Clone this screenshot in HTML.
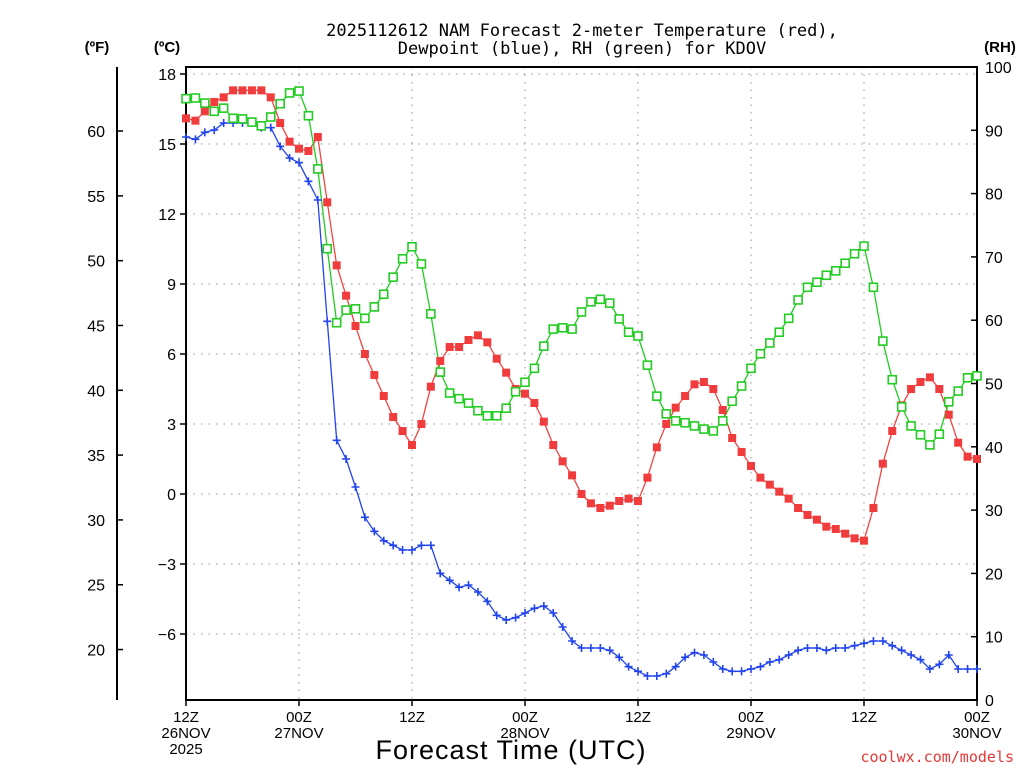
<!DOCTYPE html>
<html><head><meta charset="utf-8"><style>
html,body{margin:0;padding:0;background:#fff;}
svg{display:block;font-family:"DejaVu Sans Mono","Liberation Mono",monospace;}
.tl{font-family:"Liberation Sans",sans-serif;}
</style></head><body>
<svg id="chart" width="1024" height="768" viewBox="0 0 1024 768" xmlns="http://www.w3.org/2000/svg">
<rect x="0" y="0" width="1024" height="768" fill="#fff"/>
<text x="582" y="36" font-size="17" text-anchor="middle">2025112612 NAM Forecast 2-meter Temperature (red),</text>
<text x="582" y="54" font-size="17" text-anchor="middle">Dewpoint (blue), RH (green) for KDOV</text>
<text class="tl" x="97" y="52" font-size="15" font-weight="bold" text-anchor="middle">(ºF)</text>
<text class="tl" x="167" y="52" font-size="15" font-weight="bold" text-anchor="middle">(ºC)</text>
<text class="tl" x="1000" y="52" font-size="15" font-weight="bold" text-anchor="middle">(RH)</text>
<g id="grid"></g>
<g id="axes"></g>
<g id="series"></g>
<text x="511" y="759" font-size="27" font-family="Liberation Sans, sans-serif" text-anchor="middle" letter-spacing="1">Forecast Time (UTC)</text>
<text x="1014" y="762" font-size="15" fill="#e83838" text-anchor="end">coolwx.com/models</text>
</svg>
<script>
const hours = Array.from({length:85},(_,i)=>i);
const tempC = [16.1,16.0,16.4,16.8,17.0,17.3,17.3,17.3,17.3,17.0,15.9,15.1,14.8,14.7,15.3,12.5,9.8,8.5,7.2,6.0,5.1,4.2,3.3,2.7,2.1,3.0,
4.6,5.7,6.3,6.3,6.6,6.8,6.5,5.8,5.2,4.5,4.3,3.9,3.1,2.1,1.4,0.8,0.0,-0.4,-0.6,-0.5,-0.3,-0.2,-0.3,0.7,2.0,
3.0,3.7,4.2,4.7,4.8,4.5,3.6,2.4,1.8,1.2,0.7,0.4,0.1,-0.2,-0.6,-0.9,-1.1,-1.4,-1.5,-1.7,-1.9,-2.0,
-0.6,1.3,2.7,3.8,4.5,4.8,5.0,4.5,3.4,2.2,1.6,1.5];
const dewC = [15.3,15.2,15.5,15.6,15.9,15.9,15.9,15.9,15.7,15.7,14.9,14.4,14.2,13.4,12.6,7.4,2.3,1.5,0.3,-1.0,-1.6,-2.0,-2.2,-2.4,-2.4,-2.2,
-2.2,-3.4,-3.7,-4.0,-3.9,-4.2,-4.6,-5.2,-5.4,-5.3,-5.1,-4.9,-4.8,-5.1,-5.7,-6.3,-6.6,-6.6,-6.6,-6.7,-7.0,-7.4,-7.6,-7.8,-7.8,
-7.7,-7.4,-7.0,-6.8,-6.9,-7.2,-7.5,-7.6,-7.6,-7.5,-7.4,-7.2,-7.1,-6.9,-6.7,-6.6,-6.6,-6.7,-6.6,-6.6,-6.5,-6.4,
-6.3,-6.3,-6.5,-6.7,-6.9,-7.1,-7.5,-7.3,-6.9,-7.5,-7.5,-7.5];
const rh = [95.0,95.1,94.3,93.0,93.5,91.9,91.8,91.3,90.7,92.1,94.2,95.9,96.2,92.3,83.9,71.3,59.6,61.6,61.8,60.3,62.1,64.1,66.8,69.7,71.6,68.9,
61.0,51.8,48.5,47.6,46.9,45.7,44.9,44.9,46.1,48.7,50.2,52.4,55.9,58.6,58.8,58.6,61.3,62.9,63.3,62.7,60.2,58.1,57.5,52.9,48.0,
45.2,44.1,43.8,43.3,42.8,42.5,44.1,47.2,49.6,52.4,54.7,56.4,58.1,60.3,63.2,65.2,66.0,67.1,67.8,69.0,70.5,71.7,
65.2,56.7,50.6,46.3,43.3,41.9,40.3,42.0,47.1,48.8,50.9,51.2];
const celsiusTicks = [18,15,12,9,6,3,0,-3,-6];
const fahrTicks = [60,55,50,45,40,35,30,25,20];
const rhTicks = [100,90,80,70,60,50,40,30,20,10,0];
const xTickHours = [0,12,24,36,48,60,72,84];
const xTickLabels = [["12Z","26NOV","2025"],["00Z","27NOV"],["12Z"],["00Z","28NOV"],["12Z"],["00Z","29NOV"],["12Z"],["00Z","30NOV"]];

const L=186,R=977,T=67,B=700;
const xS=h=>L+(R-L)*h/84;
const yC=c=>494-c*23.333;
const yF=f=>yC((f-32)*5/9);
const yRH=v=>B-(B-T)*v/100;
const NS="http://www.w3.org/2000/svg";
function mk(tag,attrs,parent,txt){const e=document.createElementNS(NS,tag);for(const k in attrs)e.setAttribute(k,attrs[k]);if(txt!==undefined)e.textContent=txt;parent.appendChild(e);return e;}
const grid=document.getElementById('grid'),axes=document.getElementById('axes'),ser=document.getElementById('series');
const dash={stroke:"#aaa","stroke-width":"1.3","stroke-dasharray":"1.5 6"};
celsiusTicks.forEach(c=>{const y=yC(c);
 const g=mk('line',Object.assign({x1:L,x2:R,y1:y,y2:y},dash),grid);
 
 const t=mk('line',{x1:L-6,x2:L,y1:y,y2:y,stroke:"#000","stroke-width":"1.5"},axes);
 
 const lb=mk('text',{x:L-10,y:y+6,"font-size":"16","text-anchor":"end",class:"tl"},axes,c<0?"\u2212"+(-c):String(c));
 
});
xTickHours.forEach((h,i)=>{const x=xS(h);
 if(h>0&&h<84){const g=mk('line',Object.assign({x1:x,x2:x,y1:T,y2:B},dash),grid);
  }
 const t=mk('line',{x1:x,x2:x,y1:B,y2:B+6,stroke:"#000","stroke-width":"1.5"},axes);
 
 xTickLabels[i].forEach((s,j)=>{const lb=mk('text',{x:x,y:B+22+j*16,"font-size":"15","text-anchor":"middle",class:"tl"},axes,s);
  });
});
const fa=mk('line',{x1:117,x2:117,y1:T,y2:B,stroke:"#000","stroke-width":"2"},axes);

fahrTicks.forEach(f=>{const y=yF(f);
 const t=mk('line',{x1:117,x2:123,y1:y,y2:y,stroke:"#000","stroke-width":"1.5"},axes);
 
 const lb=mk('text',{x:105,y:y+6,"font-size":"16","text-anchor":"end",class:"tl"},axes,String(f));
 
});
rhTicks.forEach(v=>{const y=yRH(v);
 const t=mk('line',{x1:R-6,x2:R,y1:y,y2:y,stroke:"#000","stroke-width":"1.5"},axes);
 
 const lb=mk('text',{x:985,y:y+6,"font-size":"16","text-anchor":"start",class:"tl"},axes,String(v));
 
});
const box=mk('rect',{x:L,y:T,width:R-L,height:B-T,fill:"none",stroke:"#000","stroke-width":"2"},axes);


function line(vals,yf,color,name){
 const pts=vals.map((v,i)=>xS(hours[i]).toFixed(1)+","+yf(v).toFixed(1)).join(" ");
 const p=mk('polyline',{points:pts,fill:"none",stroke:color,"stroke-width":"1.3"},ser);
 
}
line(dewC,yC,"#2244ee","dewpoint-line");
line(tempC,yC,"#f04444","temperature-line");
line(rh,yRH,"#22cc22","rh-line");
dewC.forEach((v,i)=>{const x=xS(hours[i]),y=yC(v);
 const m=mk('path',{d:`M${x-4},${y}H${x+4}M${x},${y-4}V${y+4}`,stroke:"#2244ee","stroke-width":"1.6",fill:"none"},ser);
 });
tempC.forEach((v,i)=>{const x=xS(hours[i]),y=yC(v);
 const m=mk('rect',{x:x-4,y:y-4,width:8,height:8,fill:"#f03c3c"},ser);
 });
rh.forEach((v,i)=>{const x=xS(hours[i]),y=yRH(v);
 const m=mk('rect',{x:x-4,y:y-4,width:8,height:8,fill:"#fff",stroke:"#22cc22","stroke-width":"1.6"},ser);
 });
</script>
</body></html>
